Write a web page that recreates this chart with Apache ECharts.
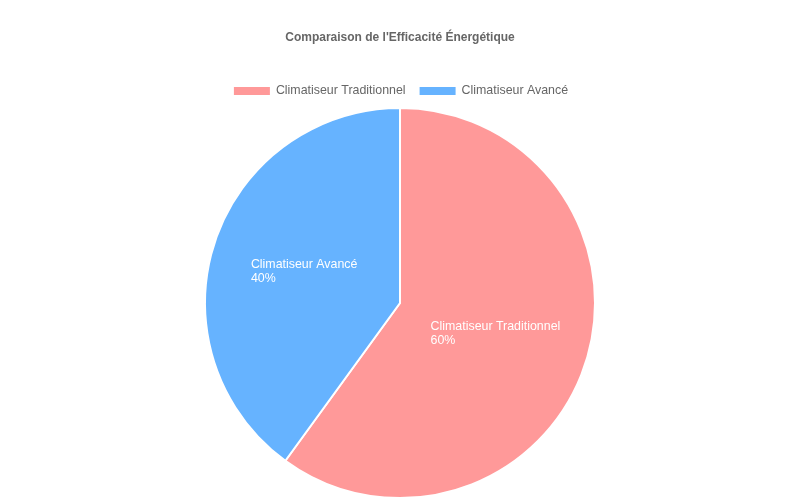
<!DOCTYPE html>
<html>
<head>
<meta charset="utf-8">
<script src="https://cdn.jsdelivr.net/npm/echarts@6/dist/echarts.min.js"></script>
<style>
  html, body { margin: 0; padding: 0; background: #fff; }
  #chart { width: 800px; height: 500px; }
</style>
</head>
<body>
<div id="chart"></div>
<script>
const titleText = "Comparaison de l'Efficacité Énergétique";
const categories = ["Climatiseur Traditionnel", "Climatiseur Avancé"];
const values = [60, 40];
const colors = ["#FF9999", "#66B3FF"];

const fontFamily = "Liberation Sans, Arial, sans-serif";
const labelSize = 12.4;

// measure text so that each inside label can be left aligned within its own block
const ctx = document.createElement("canvas").getContext("2d");
ctx.font = labelSize + "px " + fontFamily;
const textWidth = (s) => Math.ceil(ctx.measureText(s).width);

let dom = document.getElementById("chart");
let myChart = echarts.init(dom, null, { renderer: "canvas" });

const pieData = categories.map((name, i) => {
  let w = Math.max(textWidth(name), textWidth(values[i] + "%"));
  return {
    name: name,
    value: values[i],
    itemStyle: { color: colors[i] },
    label: {
      rich: {
        a: { width: w, align: "left", color: "#fff", fontSize: labelSize, lineHeight: 14 },
      },
    },
  };
});

let option = {
  animation: false,
  textStyle: { fontFamily: fontFamily },
  title: {
    text: titleText,
    left: "center",
    top: 27,
    textStyle: { fontSize: 12, fontWeight: "bold", color: "#666" },
  },
  legend: {
    top: 80,
    left: "center",
    itemWidth: 38,
    itemHeight: 10,
    itemGap: 12,
    icon: "rect",
    textStyle: { fontSize: labelSize, color: "#666" },
    data: categories,
  },
  series: [
    {
      type: "pie",
      center: [400, 303],
      radius: 195,
      startAngle: 90,
      clockwise: true,
      data: pieData,
      itemStyle: { borderColor: "#fff", borderWidth: 2 },
      label: {
        position: "inside",
        formatter: (p) => `{a|${p.name}}\n{a|${p.value}%}`,
      },
      labelLine: { show: false },
      emphasis: { disabled: true },
    },
  ],
};

myChart.setOption(option);
</script>
</body>
</html>
